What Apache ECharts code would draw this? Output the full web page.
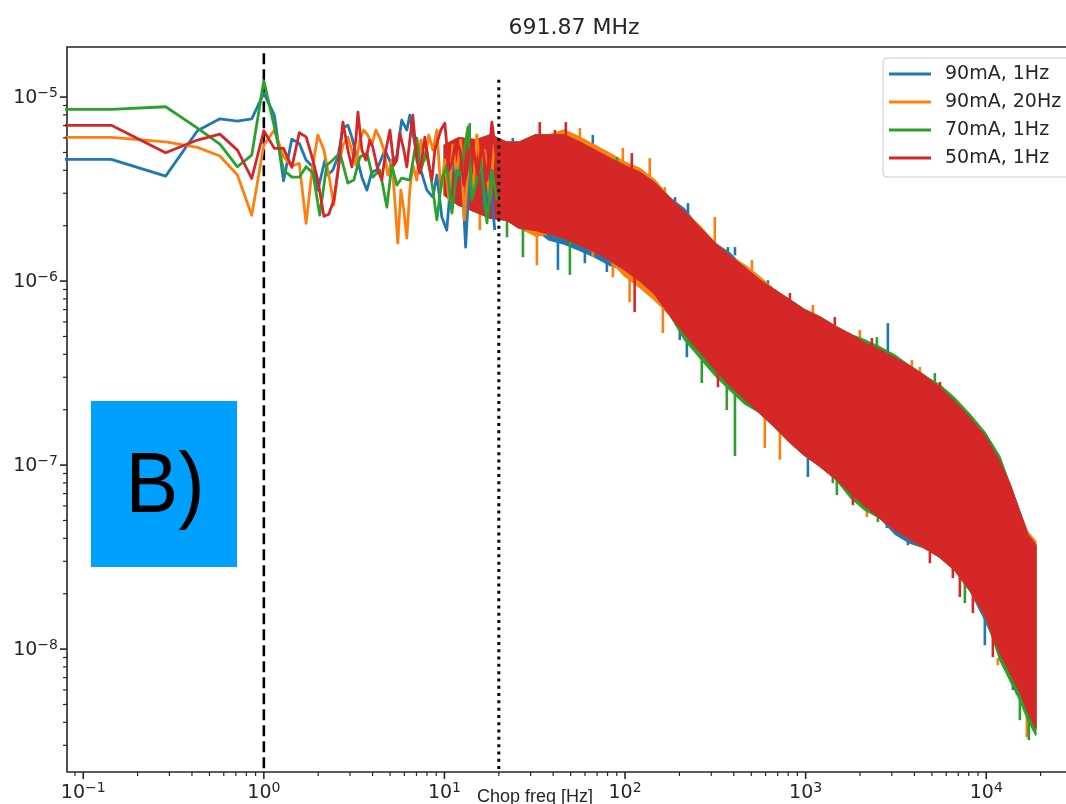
<!DOCTYPE html>
<html>
<head>
<meta charset="utf-8">
<script src="https://cdn.jsdelivr.net/npm/echarts/dist/echarts.min.js"></script>
<style>
  html, body { margin: 0; padding: 0; background: #ffffff; overflow: hidden; }
  #chart { width: 1100px; height: 804px; }
</style>
</head>
<body>
<div id="chart"></div>
<script>
// Chop-frequency noise spectra at 691.87 MHz for four bias settings.

const seriesNames  = ['90mA, 1Hz', '90mA, 20Hz', '70mA, 1Hz', '50mA, 1Hz'];
const seriesColors = ['#1f77b4', '#ff7f0e', '#2ca02c', '#d62728'];

// Axis ranges (log axes)
const X_MIN = 0.0813, X_MAX = 33460;
const Y_MIN = 2.148e-9, Y_MAX = 1.871e-5;

// Tick labels
const xMajorTicks = [0.1, 1, 10, 100, 1000, 10000];
const xTickExp    = ['\u22121', '0', '1', '2', '3', '4'];
const yMajorTicks = [1e-5, 1e-6, 1e-7, 1e-8];
const yTickExp    = ['\u22125', '\u22126', '\u22127', '\u22128'];

// Lowest frequency bins (Hz); the first entry carries the first bin's level to the left edge
const lowFreq = [0.07, 0.143, 0.286, 0.429, 0.571, 0.714, 0.857, 1.0, 1.143, 1.286, 1.429, 1.571, 1.714];
const blueLow   = [4.59e-6, 4.59e-6, 3.72e-6, 6.56e-6, 7.62e-6, 7.41e-6, 7.62e-6, 1.05e-5, 7.98e-6, 3.51e-6, 5.91e-6, 5.60e-6, 4.55e-6];
const orangeLow = [6.04e-6, 6.04e-6, 5.71e-6, 5.33e-6, 4.78e-6, 3.77e-6, 2.28e-6, 5.48e-6, 6.62e-6, 4.74e-6, 4.22e-6, 4.36e-6, 2.06e-6];
const greenLow  = [8.57e-6, 8.57e-6, 8.86e-6, 6.78e-6, 5.55e-6, 4.18e-6, 4.84e-6, 1.226e-5, 6.90e-6, 4.01e-6, 3.67e-6, 3.67e-6, 4.18e-6];
const redLow    = [7.02e-6, 7.02e-6, 4.98e-6, 5.84e-6, 6.29e-6, 5.15e-6, 3.61e-6, 6.56e-6, 5.26e-6, 5.26e-6, 4.15e-6, 6.40e-6, 6.08e-6];

// 2 - 20 Hz: individual wiggles
const blueMidFreq = [1.87, 1.99, 2.18, 2.26, 2.41, 2.57, 2.74, 2.92, 3.07, 3.27, 3.49, 3.72, 3.96, 4.22, 4.68, 5.11, 5.45, 5.80, 6.19, 6.43, 6.94, 7.40, 7.99, 8.63, 9.08, 9.67, 10.3, 11.1, 11.7, 12.3, 13.1, 13.8, 14.7, 15.9, 16.7, 17.8, 19.0];
const blueMidVal  = [4.17e-6, 3.12e-6, 4.55e-6, 3.77e-6, 4.01e-6, 4.72e-6, 6.78e-6, 7.04e-6, 6.06e-6, 4.72e-6, 3.67e-6, 3.12e-6, 3.91e-6, 4.01e-6, 5.15e-6, 4.27e-6, 4.84e-6, 7.50e-6, 6.62e-6, 7.98e-6, 5.15e-6, 4.01e-6, 3.12e-6, 2.86e-6, 3.77e-6, 2.23e-6, 1.89e-6, 4.55e-6, 3.54e-6, 5.15e-6, 1.53e-6, 4.01e-6, 3.12e-6, 4.55e-6, 2.43e-6, 3.77e-6, 1.89e-6];

const orangeMidFreq = [1.85, 1.99, 2.15, 2.29, 2.44, 2.57, 2.74, 2.92, 3.07, 3.23, 3.40, 3.57, 3.76, 3.96, 4.17, 4.39, 4.62, 4.86, 5.11, 5.31, 5.52, 5.74, 5.96, 6.19, 6.43, 6.68, 7.03, 7.40, 7.79, 8.19, 8.63, 9.08, 9.55, 10.05, 10.6, 11.1, 11.7, 12.3, 12.9, 13.6, 14.4, 15.1, 15.9, 16.7, 17.8, 19.0];
const orangeMidVal  = [4.01e-6, 6.22e-6, 5.15e-6, 3.77e-6, 2.59e-6, 4.01e-6, 5.48e-6, 6.06e-6, 5.15e-6, 4.27e-6, 5.84e-6, 6.62e-6, 6.22e-6, 5.48e-6, 6.62e-6, 5.99e-6, 5.15e-6, 3.77e-6, 4.55e-6, 2.76e-6, 1.61e-6, 3.12e-6, 2.43e-6, 1.71e-6, 3.12e-6, 4.27e-6, 3.54e-6, 5.84e-6, 4.55e-6, 6.22e-6, 5.15e-6, 6.62e-6, 3.12e-6, 4.55e-6, 2.76e-6, 5.48e-6, 3.77e-6, 5.84e-6, 2.15e-6, 4.55e-6, 3.12e-6, 6.22e-6, 4.01e-6, 5.15e-6, 2.76e-6, 5.84e-6];

const greenMidFreq = [1.87, 2.04, 2.23, 2.41, 2.64, 2.92, 3.15, 3.40, 3.72, 4.01, 4.39, 4.80, 5.11, 5.45, 5.80, 6.43, 7.03, 7.40, 7.99, 8.63, 9.08, 9.67, 10.3, 11.0, 11.7, 12.3, 12.9, 13.5, 14.2, 15.1, 15.9, 17.2, 18.3, 19.5];
const greenMidVal  = [3.86e-6, 2.28e-6, 4.27e-6, 4.55e-6, 4.96e-6, 3.41e-6, 3.54e-6, 4.72e-6, 4.96e-6, 3.67e-6, 4.01e-6, 2.52e-6, 4.27e-6, 3.32e-6, 3.63e-6, 3.54e-6, 5.99e-6, 4.01e-6, 5.15e-6, 3.12e-6, 2.15e-6, 3.54e-6, 4.27e-6, 2.34e-6, 4.01e-6, 3.77e-6, 5.15e-6, 6.87e-6, 2.76e-6, 3.54e-6, 4.55e-6, 2.07e-6, 4.01e-6, 2.76e-6];

const redMidFreq = [1.85, 1.99, 2.15, 2.29, 2.44, 2.57, 2.74, 2.92, 3.07, 3.23, 3.32, 3.49, 3.67, 3.86, 4.01, 4.28, 4.50, 4.74, 4.99, 5.25, 5.45, 5.66, 5.96, 6.19, 6.43, 6.68, 7.03, 7.31, 7.79, 8.09, 8.52, 8.85, 9.55, 10.05, 10.6, 11.0, 11.6, 12.2, 12.8, 13.3, 13.8, 14.4, 15.3, 16.1, 17.2, 18.3, 19.5];
const redMidVal  = [4.72e-6, 3.54e-6, 2.25e-6, 2.31e-6, 2.76e-6, 3.91e-6, 7.31e-6, 5.15e-6, 4.17e-6, 5.84e-6, 8.29e-6, 5.15e-6, 4.55e-6, 5.84e-6, 5.35e-6, 4.01e-6, 3.54e-6, 5.15e-6, 6.62e-6, 4.27e-6, 4.55e-6, 6.37e-6, 5.15e-6, 4.17e-6, 5.84e-6, 7.98e-6, 4.55e-6, 3.86e-6, 6.06e-6, 4.55e-6, 3.54e-6, 5.15e-6, 6.62e-6, 7.22e-6, 4.01e-6, 4.38e-6, 5.84e-6, 5.15e-6, 3.32e-6, 3.86e-6, 5.15e-6, 5.35e-6, 3.77e-6, 5.69e-6, 3.54e-6, 7.31e-6, 4.55e-6];

// Above 10 Hz the bins are too dense to separate: upper / lower envelope of each trace
const bandFreq = [10, 12, 15, 18, 22, 26, 32, 38, 46, 56, 68, 82, 100, 120, 146, 177, 214, 260, 314, 380, 460, 558, 675, 818, 990, 1200, 1450, 1760, 2130, 2580, 3120, 3780, 4570, 5540, 6700, 8110, 9820, 11900, 13500, 15350, 17000, 18800];

const redBandHi = [5.48e-6, 5.99e-6, 5.84e-6, 6.22e-6, 5.69e-6, 5.69e-6, 6.22e-6, 6.22e-6, 6.22e-6, 5.69e-6,
  5.15e-6, 4.66e-6, 4.22e-6, 3.91e-6, 3.41e-6, 2.83e-6, 2.37e-6, 1.94e-6, 1.61e-6, 1.37e-6,
  1.18e-6, 1.01e-6, 8.94e-7, 7.88e-7, 6.96e-7, 6.37e-7, 5.69e-7, 5.15e-7, 4.60e-7, 4.22e-7,
  3.82e-7, 3.45e-7, 3.05e-7, 2.62e-7, 2.20e-7, 1.80e-7, 1.44e-7, 1.04e-7, 7.88e-8, 5.55e-8,
  4.17e-8, 3.67e-8];
const redBandLo = [2.93e-6, 2.59e-6, 2.37e-6, 2.20e-6, 2.15e-6, 1.94e-6, 1.89e-6, 1.80e-6, 1.71e-6, 1.57e-6,
  1.44e-6, 1.30e-6, 1.15e-6, 1.01e-6, 8.50e-7, 6.54e-7, 5.15e-7, 4.11e-7, 3.32e-7, 2.72e-7,
  2.28e-7, 1.92e-7, 1.61e-7, 1.33e-7, 1.13e-7, 9.88e-8, 8.50e-8, 7.13e-8, 5.99e-8, 5.15e-8,
  4.43e-8, 3.96e-8, 3.54e-8, 3.16e-8, 2.69e-8, 2.09e-8, 1.53e-8, 9.51e-9, 7.50e-9, 5.84e-9,
  4.55e-9, 3.72e-9];

const greenBandHi = [5.48e-6, 5.99e-6, 5.84e-6, 6.22e-6, 5.69e-6, 5.69e-6, 6.22e-6, 6.22e-6, 6.22e-6, 5.69e-6,
  5.15e-6, 4.66e-6, 4.22e-6, 3.91e-6, 3.41e-6, 2.83e-6, 2.37e-6, 1.94e-6, 1.61e-6, 1.37e-6,
  1.18e-6, 1.01e-6, 8.94e-7, 7.88e-7, 6.96e-7, 6.37e-7, 5.69e-7, 5.15e-7, 4.78e-7, 4.38e-7,
  3.96e-7, 3.45e-7, 3.05e-7, 2.72e-7, 2.31e-7, 1.89e-7, 1.51e-7, 1.11e-7, 7.88e-8, 5.55e-8,
  4.17e-8, 3.67e-8];
const greenBandLo = [2.93e-6, 2.59e-6, 2.37e-6, 2.20e-6, 2.15e-6, 1.94e-6, 1.89e-6, 1.80e-6, 1.71e-6, 1.57e-6,
  1.44e-6, 1.30e-6, 1.15e-6, 1.01e-6, 8.50e-7, 6.54e-7, 4.78e-7, 3.82e-7, 3.08e-7, 2.56e-7,
  2.15e-7, 1.92e-7, 1.61e-7, 1.33e-7, 1.13e-7, 9.88e-8, 8.50e-8, 6.70e-8, 5.69e-8, 5.15e-8,
  4.43e-8, 3.96e-8, 3.54e-8, 3.16e-8, 2.69e-8, 2.09e-8, 1.53e-8, 8.71e-9, 6.78e-9, 5.28e-9,
  4.11e-9, 3.41e-9];

const orangeBandHi = [5.48e-6, 5.99e-6, 5.84e-6, 6.22e-6, 5.69e-6, 5.69e-6, 6.22e-6, 6.22e-6, 6.62e-6, 6.06e-6,
  5.48e-6, 4.96e-6, 4.43e-6, 4.11e-6, 3.54e-6, 2.83e-6, 2.37e-6, 1.99e-6, 1.61e-6, 1.37e-6,
  1.22e-6, 1.05e-6, 8.94e-7, 7.88e-7, 6.96e-7, 6.37e-7, 5.69e-7, 5.15e-7, 4.60e-7, 4.22e-7,
  3.82e-7, 3.45e-7, 3.05e-7, 2.62e-7, 2.20e-7, 1.80e-7, 1.44e-7, 1.04e-7, 7.88e-8, 5.55e-8,
  4.32e-8, 3.86e-8];
const orangeBandLo = [2.93e-6, 2.59e-6, 2.37e-6, 2.20e-6, 2.15e-6, 1.94e-6, 1.76e-6, 1.80e-6, 1.71e-6, 1.57e-6,
  1.44e-6, 1.30e-6, 1.06e-6, 9.28e-7, 7.88e-7, 6.54e-7, 5.15e-7, 4.11e-7, 3.32e-7, 2.72e-7,
  2.28e-7, 1.92e-7, 1.61e-7, 1.33e-7, 1.13e-7, 9.88e-8, 8.50e-8, 7.13e-8, 5.99e-8, 5.15e-8,
  4.43e-8, 3.96e-8, 3.54e-8, 3.16e-8, 2.69e-8, 2.09e-8, 1.53e-8, 8.94e-9, 7.50e-9, 5.84e-9,
  4.22e-9, 3.72e-9];

const blueBandHi = [5.48e-6, 5.99e-6, 5.84e-6, 6.22e-6, 5.69e-6, 5.69e-6, 6.22e-6, 6.22e-6, 6.22e-6, 5.84e-6,
  5.42e-6, 4.66e-6, 4.22e-6, 3.91e-6, 3.41e-6, 2.83e-6, 2.46e-6, 1.94e-6, 1.61e-6, 1.42e-6,
  1.18e-6, 1.01e-6, 8.94e-7, 7.88e-7, 6.96e-7, 6.37e-7, 5.69e-7, 5.15e-7, 4.60e-7, 4.32e-7,
  3.82e-7, 3.45e-7, 3.05e-7, 2.62e-7, 2.20e-7, 1.80e-7, 1.44e-7, 1.04e-7, 7.88e-8, 5.55e-8,
  4.17e-8, 3.67e-8];
const blueBandLo = [2.93e-6, 2.59e-6, 2.37e-6, 2.20e-6, 2.15e-6, 1.94e-6, 1.89e-6, 1.67e-6, 1.59e-6, 1.47e-6,
  1.35e-6, 1.22e-6, 1.15e-6, 1.01e-6, 8.50e-7, 6.54e-7, 5.15e-7, 4.11e-7, 3.32e-7, 2.72e-7,
  2.28e-7, 1.92e-7, 1.61e-7, 1.33e-7, 1.13e-7, 9.88e-8, 8.50e-8, 7.13e-8, 5.99e-8, 5.15e-8,
  4.22e-8, 3.77e-8, 3.54e-8, 3.16e-8, 2.69e-8, 2.09e-8, 1.44e-8, 9.51e-9, 7.50e-9, 5.84e-9,
  4.55e-9, 3.72e-9];

// Isolated excursions past the envelope: [freq, from, to]
const blueSpikes = [[66.3, 5.15e-6, 6.22e-6], [223, 2.28e-6, 2.65e-6], [406, 1.38e-6, 1.53e-6], [2852, 4.11e-7, 5.91e-7],
  [42.5, 1.76e-6, 1.15e-6], [79.3, 1.33e-6, 1.12e-6], [220, 5.15e-7, 3.86e-7], [1029, 1.12e-7, 8.61e-8],
  [2816, 5.02e-8, 4.55e-8], [3681, 4.01e-8, 3.67e-8], [9822, 1.53e-8, 1.05e-8], [14040, 6.78e-9, 5.99e-9],
  [189, 2.43e-6, 2.86e-6], [371, 1.27e-6, 1.53e-6], [618, 8.71e-7, 1.01e-6], [23.9, 5.15e-6, 5.99e-6],
  [43.6, 5.48e-6, 6.37e-6], [59.9, 1.67e-6, 1.25e-6], [201, 5.99e-7, 4.78e-7]];
const orangeSpikes = [[56.2, 5.69e-6, 6.78e-6], [97.2, 4.22e-6, 5.28e-6], [137, 3.63e-6, 4.66e-6], [314, 1.61e-6, 2.23e-6],
  [504, 1.09e-6, 1.30e-6], [1096, 6.62e-7, 7.41e-7], [32.5, 1.89e-6, 1.22e-6], [106, 1.12e-6, 7.69e-7],
  [162, 7.41e-7, 5.22e-7], [11595, 8.94e-9, 8.18e-9], [16780, 4.66e-9, 3.32e-9],
  [166, 2.76e-6, 3.24e-6], [3873, 3.20e-7, 3.72e-7], [1995, 4.49e-7, 5.42e-7], [4289, 2.90e-7, 3.41e-7],
  [15.7, 2.59e-6, 1.89e-6], [66.3, 1.57e-6, 1.35e-6], [85.6, 1.38e-6, 1.05e-6], [594, 1.99e-7, 1.24e-7],
  [720, 1.65e-7, 1.07e-7], [2183, 6.45e-8, 5.22e-8], [14770, 6.78e-9, 5.62e-9]];
const greenSpikes = [[13.8, 5.99e-6, 7.22e-6], [2479, 4.22e-7, 4.96e-7], [27.2, 1.94e-6, 1.35e-6], [49.5, 1.67e-6, 1.08e-6],
  [266, 4.11e-7, 2.79e-7], [406, 2.72e-7, 1.12e-7], [1489, 8.50e-8, 6.87e-8], [15350, 5.84e-9, 4.11e-9],
  [17210, 4.55e-9, 3.20e-9],
  [90.1, 4.11e-6, 4.72e-6], [5193, 2.72e-7, 3.16e-7], [22.2, 2.28e-6, 1.73e-6], [366, 2.72e-7, 1.99e-7],
  [1414, 9.39e-8, 7.98e-8], [2511, 5.69e-8, 4.90e-8], [7612, 2.37e-8, 1.78e-8]];
const redSpikes = [[33.7, 5.84e-6, 7.31e-6], [40.9, 5.84e-6, 6.62e-6], [47.0, 5.84e-6, 7.31e-6], [109, 4.01e-6, 4.96e-6],
  [113, 1.08e-6, 6.78e-7], [327, 3.28e-7, 2.65e-7], [1826, 6.87e-8, 6.06e-8], [4872, 3.37e-8, 2.93e-8],
  [7141, 2.52e-8, 1.92e-8], [8431, 2.09e-8, 1.57e-8], [10877, 1.27e-8, 9.05e-9],
  [818, 7.41e-7, 8.61e-7], [1450, 5.28e-7, 6.37e-7], [2326, 4.11e-7, 4.90e-7], [5540, 2.49e-7, 2.83e-7],
  [6531, 2.97e-8, 2.43e-8]];

// Vertical markers: 1 Hz (dashed) and 20 Hz (dotted)
const markerFreq = [1, 20];
const markerTop  = [1.73e-5, 1.24e-5];

const traces = [
  { low: blueLow,   midF: blueMidFreq,   midV: blueMidVal,   hi: blueBandHi,   lo: blueBandLo,   spikes: blueSpikes },
  { low: orangeLow, midF: orangeMidFreq, midV: orangeMidVal, hi: orangeBandHi, lo: orangeBandLo, spikes: orangeSpikes },
  { low: greenLow,  midF: greenMidFreq,  midV: greenMidVal,  hi: greenBandHi,  lo: greenBandLo,  spikes: greenSpikes },
  { low: redLow,    midF: redMidFreq,    midV: redMidVal,    hi: redBandHi,    lo: redBandLo,    spikes: redSpikes }
];

const LINE_W = 2.8;
const INK = '#262626';

function lineSeries(name, color, t) {
  const data = lowFreq.map((f, i) => [f, t.low[i]])
    .concat(t.midF.map((f, i) => [f, t.midV[i]]));
  return {
    type: 'line', name, data, showSymbol: false, silent: true, clip: true,
    lineStyle: { color, width: LINE_W, join: 'round' },
    itemStyle: { color }
  };
}

function bandSeries(name, color, t) {
  return {
    type: 'custom', name, coordinateSystem: 'cartesian2d', silent: true,
    data: bandFreq.map((f, i) => [f, t.lo[i], t.hi[i]]),
    encode: { x: 0, y: [1, 2] },
    itemStyle: { color },
    renderItem(params, api) {
      if (params.dataIndex !== 0) return null;
      const top = bandFreq.map((f, i) => api.coord([f, t.hi[i]]));
      const bot = bandFreq.map((f, i) => api.coord([f, t.lo[i]])).reverse();
      return {
        type: 'polygon',
        shape: { points: top.concat(bot) },
        style: { fill: color, stroke: color, lineWidth: 1.5, lineJoin: 'round' }
      };
    }
  };
}

function spikeSeries(name, color, t) {
  return {
    type: 'custom', name, coordinateSystem: 'cartesian2d', silent: true,
    data: t.spikes,
    encode: { x: 0, y: [1, 2] },
    itemStyle: { color },
    renderItem(params, api) {
      const a = api.coord([api.value(0), api.value(1)]);
      const b = api.coord([api.value(0), api.value(2)]);
      return {
        type: 'line',
        shape: { x1: a[0], y1: a[1], x2: b[0], y2: b[1] },
        style: { stroke: color, lineWidth: 2.6 }
      };
    }
  };
}

// Major / minor tick positions for the log axes
const xTickData = xMajorTicks.map((v, i) => [v, Y_MIN, 1, i]);
const yTickData = yMajorTicks.map((v, i) => [X_MIN, v, 1, i]);
for (let e = -10; e <= 5; e++) {
  for (let m = 2; m <= 9; m++) {
    const v = m * Math.pow(10, e);
    if (v > X_MIN && v < X_MAX) xTickData.push([v, Y_MIN, 0, -1]);
    if (v > Y_MIN && v < Y_MAX) yTickData.push([X_MIN, v, 0, -1]);
  }
}

const tickRich = {
  b: { fontSize: 19, fontFamily: 'DejaVu Sans', fill: INK, lineHeight: 24 },
  s: { fontSize: 14, fontFamily: 'DejaVu Sans', fill: INK, lineHeight: 10, verticalAlign: 'top' }
};

const xTickSeries = {
  type: 'custom', coordinateSystem: 'cartesian2d', silent: true, clip: false, z: 10,
  data: xTickData, encode: { x: 0, y: 1 },
  renderItem(params, api) {
    const p = api.coord([api.value(0), api.value(1)]);
    const major = api.value(2) === 1;
    const len = major ? 7 : 4;
    const children = [{
      type: 'line', shape: { x1: p[0], y1: p[1], x2: p[0], y2: p[1] + len },
      style: { stroke: INK, lineWidth: major ? 1.6 : 1.2 }
    }];
    if (major) {
      children.push({
        type: 'text', x: p[0], y: p[1] + len + 2,
        style: { text: '{b|10}{s|' + xTickExp[api.value(3)] + '}', rich: tickRich, align: 'center', verticalAlign: 'top' }
      });
    }
    return { type: 'group', children };
  }
};

const yTickSeries = {
  type: 'custom', coordinateSystem: 'cartesian2d', silent: true, clip: false, z: 10,
  data: yTickData, encode: { x: 0, y: 1 },
  renderItem(params, api) {
    const p = api.coord([api.value(0), api.value(1)]);
    const major = api.value(2) === 1;
    const len = major ? 7 : 4;
    const children = [{
      type: 'line', shape: { x1: p[0] - len, y1: p[1], x2: p[0], y2: p[1] },
      style: { stroke: INK, lineWidth: major ? 1.6 : 1.2 }
    }];
    if (major) {
      children.push({
        type: 'text', x: p[0] - len - 2, y: p[1] + 1,
        style: { text: '{b|10}{s|' + yTickExp[api.value(3)] + '}', rich: tickRich, align: 'right', verticalAlign: 'middle' }
      });
    }
    return { type: 'group', children };
  }
};

const markerSeries = markerFreq.map((f, i) => ({
  type: 'line', silent: true, showSymbol: false,
  data: [[f, markerTop[i]], [f, Y_MIN]],
  lineStyle: i === 0
    ? { color: '#000', width: 2.6, type: [11, 5] }
    : { color: '#000', width: 3, type: [3, 4.3] }
}));

const dataSeries = [];
traces.forEach((t, k) => {
  dataSeries.push(lineSeries(seriesNames[k], seriesColors[k], t));
  dataSeries.push(bandSeries(seriesNames[k], seriesColors[k], t));
  dataSeries.push(spikeSeries(seriesNames[k], seriesColors[k], t));
});

const chart = echarts.init(document.getElementById('chart'), null, { renderer: 'canvas' });
chart.setOption({
  animation: false,
  backgroundColor: '#ffffff',
  textStyle: { fontFamily: 'DejaVu Sans' },
  grid: { left: 67, top: 47, width: 1014, height: 725, show: true, borderColor: INK, borderWidth: 1.6, backgroundColor: 'transparent' },
  xAxis: {
    type: 'log', logBase: 10, min: X_MIN, max: X_MAX,
    axisLine: { show: false }, axisTick: { show: false }, axisLabel: { show: false }, splitLine: { show: false }
  },
  yAxis: {
    type: 'log', logBase: 10, min: Y_MIN, max: Y_MAX,
    axisLine: { show: false }, axisTick: { show: false }, axisLabel: { show: false }, splitLine: { show: false }
  },
  legend: {
    orient: 'vertical', left: 883, top: 58,
    data: seriesNames, icon: 'rect', itemWidth: 42, itemHeight: 3, itemGap: 8,
    padding: [6, 12, 9, 6],
    backgroundColor: 'rgba(255,255,255,0.85)', borderColor: '#cccccc', borderWidth: 1, borderRadius: 4,
    textStyle: { fontSize: 19, lineHeight: 20, color: INK, fontFamily: 'DejaVu Sans', padding: [0, 0, 0, 9] },
    selectedMode: false
  },
  graphic: [
    { type: 'text', x: 574, y: 28, style: { text: '691.87 MHz', fontSize: 22, fontFamily: 'DejaVu Sans', fill: INK, align: 'center', verticalAlign: 'middle' } },
    { type: 'text', x: 535, y: 788, style: { text: 'Chop freq [Hz]', fontSize: 18, fontFamily: 'Liberation Sans', fill: INK, align: 'center', verticalAlign: 'top' } },
    { type: 'rect', shape: { x: 91, y: 401, width: 146, height: 166 }, style: { fill: '#00a0ff' }, z: 20 },
    { type: 'text', x: 165, y: 488, scaleX: 0.92, style: { text: 'B)', fontSize: 86, fontFamily: 'Liberation Sans', fill: '#000000', align: 'center', verticalAlign: 'middle' }, z: 21 }
  ],
  series: markerSeries.concat(dataSeries, [xTickSeries, yTickSeries])
});
</script>
</body>
</html>
